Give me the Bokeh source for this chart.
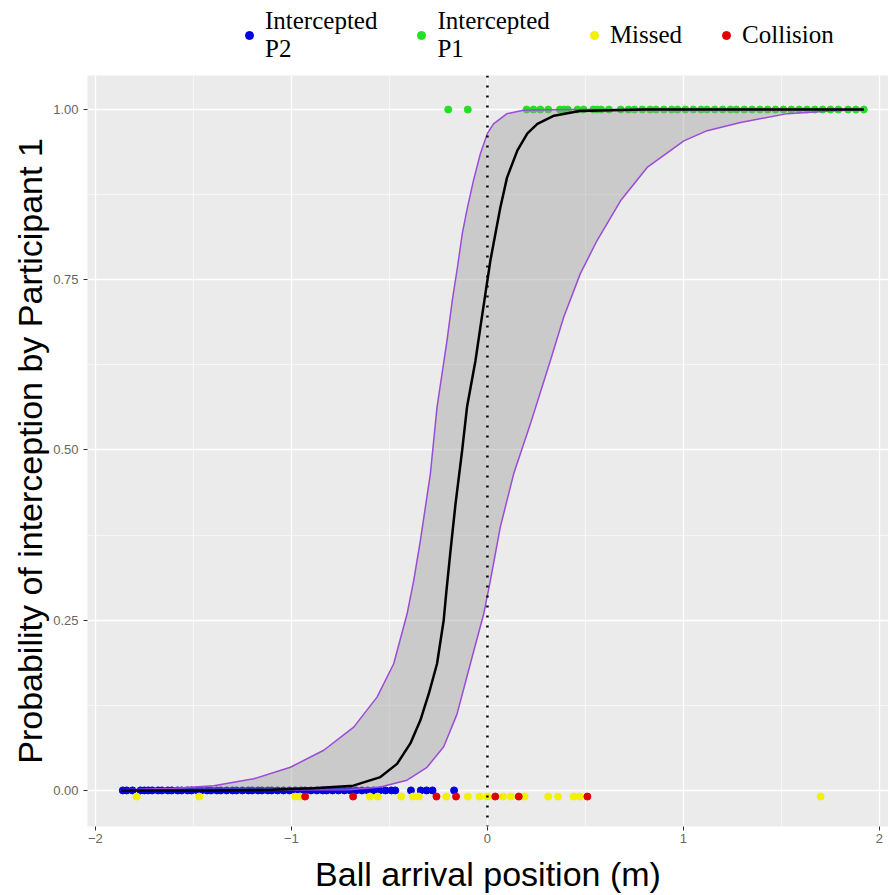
from bokeh.plotting import figure
from bokeh.layouts import column
from bokeh.models import (Legend, LegendItem, FixedTicker, Span, Range1d)
from bokeh.embed import file_html
from bokeh.resources import INLINE

# ---------------- data ----------------
x_ticks = [-2, -1, 0, 1, 2]
x_minor = [-1.5, -0.5, 0.5, 1.5]
y_ticks = [0.0, 0.25, 0.5, 0.75, 1.0]
y_minor = [0.125, 0.375, 0.625, 0.875]
y_tick_labels = ["0.00", "0.25", "0.50", "0.75", "1.00"]

# fitted logistic curve (black)
fit_x = [-1.87, -1.4, -1.1, -0.888, -0.684, -0.546, -0.461, -0.393, -0.342,
         -0.299, -0.257, -0.223, -0.21, -0.189, -0.163, -0.129, -0.104,
         -0.061, -0.036, -0.01, 0.015, 0.041, 0.066, 0.10, 0.153, 0.204,
         0.255, 0.34, 0.47, 0.8, 1.2, 1.6, 1.92]
fit_y = [0.0, 0.0, 0.001, 0.003, 0.007, 0.0196, 0.039, 0.069, 0.103,
         0.142, 0.186, 0.25, 0.29, 0.35, 0.42, 0.499, 0.563,
         0.631, 0.68, 0.73, 0.778, 0.818, 0.856, 0.90, 0.94, 0.965,
         0.979, 0.991, 0.998, 1.0, 1.0, 1.0, 1.0]

# upper confidence bound (left purple curve)
ub_x = [-1.87, -1.60, -1.396, -1.192, -1.005, -0.835, -0.682, -0.563, -0.478,
        -0.41, -0.376, -0.342, -0.291, -0.257, -0.206, -0.179, -0.153, -0.128,
        -0.102, -0.071, -0.036, 0.0, 0.031, 0.10, 0.184, 0.40, 0.80, 1.20,
        1.60, 1.92]
ub_y = [0.001, 0.003, 0.007, 0.017, 0.034, 0.059, 0.093, 0.137, 0.186,
        0.259, 0.308, 0.367, 0.465, 0.563, 0.661, 0.72, 0.768, 0.818,
        0.856, 0.896, 0.935, 0.965, 0.979, 0.994, 0.999, 1.0, 1.0, 1.0,
        1.0, 1.0]

# lower confidence bound (right purple curve)
lb_x = [-1.87, -0.70, -0.546, -0.41, -0.308, -0.223, -0.155, -0.087, -0.019,
        0.015, 0.066, 0.134, 0.219, 0.321, 0.389, 0.474, 0.56, 0.679, 0.815,
        1.002, 1.121, 1.291, 1.529, 1.75, 1.92]
lb_y = [0.0, 0.001, 0.005, 0.015, 0.034, 0.064, 0.112, 0.186, 0.259,
        0.308, 0.387, 0.465, 0.538, 0.631, 0.695, 0.759, 0.808, 0.866, 0.915,
        0.954, 0.969, 0.981, 0.994, 0.998, 1.0]

# observations
p2_x = [-1.86, -1.84, -1.81, -1.77, -1.75, -1.73, -1.71, -1.68, -1.66, -1.63,
        -1.61, -1.58, -1.56, -1.53, -1.51, -1.48, -1.46, -1.43, -1.41, -1.38,
        -1.36, -1.33, -1.30, -1.28, -1.25, -1.22, -1.20, -1.17, -1.15, -1.12,
        -1.10, -1.07, -1.04, -1.01, -0.98, -0.95, -0.93, -0.90, -0.87, -0.84,
        -0.82, -0.79, -0.76, -0.73, -0.70, -0.67, -0.64, -0.61, -0.58, -0.55,
        -0.52, -0.49, -0.47, -0.39, -0.34, -0.31, -0.28, -0.17]
p2_y = [0.0] * len(p2_x)

p1_x = [-0.20, -0.10, 0.20, 0.235, 0.27, 0.31, 0.37, 0.39, 0.41, 0.46, 0.49,
        0.54, 0.56, 0.58, 0.62, 0.68, 0.72, 0.75, 0.79, 0.83, 0.86, 0.90,
        0.94, 0.97, 1.01, 1.05, 1.09, 1.12, 1.16, 1.20, 1.24, 1.27, 1.31,
        1.35, 1.39, 1.43, 1.47, 1.51, 1.55, 1.59, 1.63, 1.67, 1.71, 1.75,
        1.79, 1.84, 1.88, 1.92]
p1_y = [1.0] * len(p1_x)

missed_x = [-1.79, -1.47, -0.98, -0.955, -0.60, -0.56, -0.44, -0.38, -0.35,
            -0.21, -0.10, -0.04, 0.0, 0.08, 0.12, 0.19, 0.31, 0.36, 0.44,
            0.47, 1.70]
missed_y = [-0.009] * len(missed_x)

coll_x = [-0.93, -0.685, -0.26, -0.16, 0.04, 0.16, 0.51]
coll_y = [-0.009] * len(coll_x)

series_labels = ["Intercepted\nP2", "Intercepted\nP1", "Missed", "Collision"]
series_colors = ["#0000E0", "#22E022", "#F2F200", "#E00000"]
series_x = [p2_x, p1_x, missed_x, coll_x]
series_y = [p2_y, p1_y, missed_y, coll_y]

# ---------------- main figure ----------------
W = 888
LEG_H = 75
H = 895 - LEG_H
BL, BR, BT, BB = 87, 0, 0, 69
p = figure(width=W, height=H, output_backend="svg", toolbar_location=None,
           x_range=Range1d(-2.04, 2.046), y_range=Range1d(-0.053, 1.05),
           min_border_left=BL, min_border_right=BR, min_border_top=BT,
           min_border_bottom=BB)
p.background_fill_color = "#EBEBEB"
p.border_fill_color = "white"
p.outline_line_color = None

p.xaxis.ticker = FixedTicker(ticks=x_ticks, minor_ticks=x_minor)
p.yaxis.ticker = FixedTicker(ticks=y_ticks, minor_ticks=y_minor)
p.yaxis.major_label_overrides = {t: l for t, l in zip(y_ticks, y_tick_labels)}

for ax in (p.xaxis[0], p.yaxis[0]):
    ax.axis_line_color = None
    ax.major_tick_line_color = "#333333"
    ax.major_tick_out = 4
    ax.major_tick_in = 0
    ax.minor_tick_line_color = None
    ax.major_label_text_color = "#666666"
    ax.major_label_text_font = "Liberation Sans"
    ax.major_label_text_font_size = "13px"
    ax.axis_label_text_font = "Liberation Sans"
    ax.axis_label_text_font_size = "34px"
    ax.axis_label_text_font_style = "normal"
    ax.axis_label_text_color = "black"
p.xaxis.major_label_standoff = 3
p.yaxis.major_label_standoff = 5
p.xaxis.axis_label_standoff = 9
p.yaxis.axis_label_standoff = 1

p.xaxis.axis_label = "Ball arrival position (m)"
p.yaxis.axis_label = "Probability of interception by Participant 1"

for g in (p.xgrid[0], p.ygrid[0]):
    g.grid_line_color = "white"
    g.grid_line_width = 1.3
    g.minor_grid_line_color = "white"
    g.minor_grid_line_width = 0.6

# points
for xs, ys, col in zip(series_x, series_y, series_colors):
    p.scatter(xs, ys, size=7, color=col)

# confidence band
band_x = ub_x + lb_x[::-1]
band_y = ub_y + lb_y[::-1]
p.patch(band_x, band_y, fill_color="#999999", fill_alpha=0.4, line_color=None)
p.line(ub_x, ub_y, line_color="#9B4BD8", line_width=1.5)
p.line(lb_x, lb_y, line_color="#9B4BD8", line_width=1.5)
p.line(fit_x, fit_y, line_color="black", line_width=2.5)

p.add_layout(Span(location=0, dimension="height", line_color="black",
                  line_width=2.5, line_dash="2 8"))

# ---------------- legend strip on top ----------------
lf = figure(width=W, height=LEG_H, output_backend="svg", toolbar_location=None,
            x_range=Range1d(0, 1), y_range=Range1d(0, 1),
            x_axis_type=None, y_axis_type=None,
            min_border_left=0, min_border_right=0, min_border_top=0,
            min_border_bottom=0)
lf.outline_line_color = None
lf.background_fill_color = "white"
lf.border_fill_color = "white"
lf.xgrid.visible = False
lf.ygrid.visible = False

items = []
for lab, col in zip(series_labels, series_colors):
    bg = lf.scatter([0.5], [0.5], marker="square", size=24,
                    fill_color="#EDEDED", line_color=None, visible=False)
    dot = lf.scatter([0.5], [0.5], size=6, color=col, visible=False)
    items.append(LegendItem(label=lab, renderers=[bg, dot]))

legend = Legend(items=items, orientation="horizontal", location=(152, 12),
                label_text_font="Liberation Serif", label_text_font_size="25px",
                label_text_color="black", label_text_line_height=1.05,
                glyph_width=20, glyph_height=26,
                label_standoff=6, spacing=34, padding=0, margin=0,
                border_line_color=None, background_fill_alpha=0,
                click_policy="none")
lf.add_layout(legend, "center")

layout = column(lf, p, spacing=0)
open("out.html", "w").write(file_html(layout, INLINE))
